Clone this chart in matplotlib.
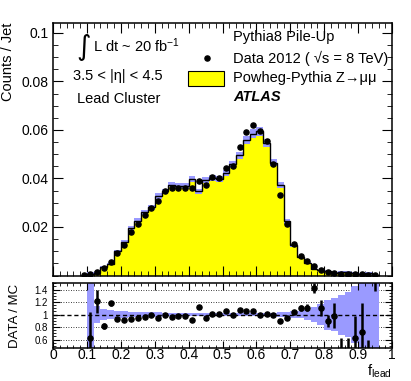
import numpy as np
import matplotlib
matplotlib.use('Agg')
import matplotlib.pyplot as plt
from matplotlib.ticker import MultipleLocator, FormatStrFormatter
from matplotlib.patches import Rectangle

plt.rcParams['font.family'] = ['Liberation Sans', 'DejaVu Sans']
plt.rcParams['mathtext.fontset'] = 'custom'
plt.rcParams['mathtext.rm'] = 'Liberation Sans'
plt.rcParams['mathtext.it'] = 'Liberation Sans:italic'

# bin edges in f_lead (0.08 .. 0.96, width 0.02)
edges = np.round(np.arange(0.08, 0.961, 0.02), 2)
centers = 0.5 * (edges[:-1] + edges[1:])

# data 2012, counts / jet
data = [0.0003, 0.0005, 0.0015, 0.0030, 0.0057, 0.0094, 0.0127, 0.0180, 0.0212, 0.0250,
        0.0278, 0.0307, 0.0348, 0.0360, 0.0359, 0.0362, 0.0362, 0.0390, 0.0373, 0.0407,
        0.0402, 0.0443, 0.0453, 0.0530, 0.0590, 0.0620, 0.0595, 0.0553, 0.0460, 0.0332,
        0.0212, 0.0129, 0.0082, 0.0059, 0.0038, 0.0023, 0.0015, 0.0011, 0.0007, 0.0007,
        0.0006, 0.0005, 0.0004, 0.0004]

# Powheg-Pythia Z->mumu MC
mc = [0.0, 0.0008, 0.0012, 0.0037, 0.0048, 0.0101, 0.0140, 0.0194, 0.0226, 0.0260,
      0.0281, 0.0327, 0.0348, 0.0375, 0.0370, 0.0369, 0.0398, 0.0348, 0.0393, 0.0403,
      0.0398, 0.0422, 0.0458, 0.0495, 0.0557, 0.0585, 0.0595, 0.0548, 0.0465, 0.0373,
      0.0223, 0.0124, 0.0075, 0.0053, 0.0027, 0.0021, 0.0017, 0.0011, 0.0015, 0.0015,
      0.0010, 0.0007, 0.0010, 0.0002]

# relative MC stat uncertainty
mc_rel = [0.0, 0.6, 0.14, 0.09, 0.07, 0.055, 0.05, 0.045, 0.04, 0.04, 0.035, 0.035,
          0.03, 0.03, 0.03, 0.03, 0.03, 0.03, 0.03, 0.03, 0.03, 0.03, 0.03, 0.03, 0.03,
          0.03, 0.03, 0.03, 0.03,
          0.035, 0.04, 0.05, 0.06, 0.08, 0.12, 0.17, 0.24, 0.26, 0.32, 0.36, 0.45, 0.55,
          0.6, 0.6]

# data / MC ratio
ratio = [np.nan, 0.62, 1.21, 0.82, 1.18, 0.93, 0.91, 0.93, 0.94, 0.96, 0.99, 0.94,
         1.00, 0.96, 0.97, 0.98, 0.91, 1.12, 0.95, 1.01, 1.01, 1.05, 0.99, 1.07, 1.06,
         1.06, 1.00, 1.01, 0.99, 0.89, 0.95, 1.04, 1.10, 1.11, 1.42, 1.10, 0.90, 0.98,
         0.40, 0.40, 0.62, 0.72, 0.40, 1.90]
ratio_err = [np.nan, 0.42, 0.19, 0.05, 0.04, 0.02, 0.02, 0.015, 0.015, 0.015, 0.015,
             0.015, 0.015, 0.015, 0.015, 0.015, 0.015, 0.015, 0.015, 0.015, 0.015, 0.015,
             0.015, 0.015, 0.015, 0.015, 0.015, 0.015, 0.015, 0.015, 0.015, 0.02, 0.05,
             0.06, 0.08, 0.13, 0.10, 0.20, 0.22, 0.22, 0.36, 0.46, 0.20, 0.52]

mc = np.array(mc)
mc_rel = np.array(mc_rel)

yellow = '#ffff00'
band = '#9a9aff'

fig = plt.figure(figsize=(4.11, 3.81), dpi=100)
ax1 = fig.add_axes([0.129, 0.2769, 0.825, 0.6627])
ax2 = fig.add_axes([0.129, 0.0874, 0.825, 0.169])

# upper panel
ax1.stairs(mc, edges, fill=True, color=yellow, zorder=1)
ax1.stairs(mc * (1 + mc_rel), edges, baseline=mc * (1 - mc_rel), fill=True,
           color=band, lw=0, zorder=2)
ax1.stairs(mc, edges, color='black', lw=1.0, zorder=3)
ax1.plot(centers, data, 'o', color='black', ms=3.7, zorder=4)

ax1.set_xlim(0, 1)
ax1.set_ylim(0, 0.1041)
ax1.xaxis.set_major_locator(MultipleLocator(0.1))
ax1.xaxis.set_minor_locator(MultipleLocator(0.02))
ax1.yaxis.set_major_locator(MultipleLocator(0.02))
ax1.yaxis.set_minor_locator(MultipleLocator(0.005))
ax1.yaxis.set_major_formatter(FormatStrFormatter('%g'))
ax1.tick_params(axis='x', labelbottom=False)
ax1.tick_params(which='both', direction='in', top=True, right=True, labelsize=10)
ax1.tick_params(which='major', length=7)
ax1.tick_params(which='minor', length=3.5)
ax1.set_yticks([0.02, 0.04, 0.06, 0.08, 0.1])
ax1.set_ylabel('Counts / Jet', fontsize=10.5, loc='top')

# text and legend
tr = ax1.transAxes
ax1.text(0.068, 0.905, '\u222b', transform=tr, fontsize=20, va='center', ha='left',
         family=['DejaVu Sans'])
ax1.text(0.118, 0.909, 'L dt ~ 20 fb$^{\\mathregular{-1}}$', transform=tr,
         fontsize=10.5, va='center', ha='left')
ax1.text(0.059, 0.790, '3.5 < |\u03b7| < 4.5', transform=tr, fontsize=10.5,
         va='center', ha='left')
ax1.text(0.071, 0.699, 'Lead Cluster', transform=tr, fontsize=10.5,
         va='center', ha='left')
ax1.text(0.531, 0.944, 'Pythia8 Pile-Up', transform=tr, fontsize=10.5,
         va='center', ha='left')
ax1.plot([0.453], [0.861], 'o', color='black', ms=3.7, transform=tr)
ax1.text(0.531, 0.861, 'Data 2012 ( \u221as = 8 TeV)', transform=tr, fontsize=10.5,
         va='center', ha='left')
ax1.add_patch(Rectangle((0.398, 0.750), 0.106, 0.060, transform=tr,
                        facecolor=yellow, edgecolor='black', lw=0.8))
ax1.text(0.531, 0.782, 'Powheg-Pythia Z\u2192\u03bc\u03bc', transform=tr,
         fontsize=10.5, va='center', ha='left')
ax1.text(0.531, 0.707, 'ATLAS', transform=tr, fontsize=10.5, va='center',
         ha='left', weight='bold', style='italic')

# lower panel
ax2.stairs(1 + mc_rel, edges, baseline=1 - mc_rel, fill=True, color=band, lw=0,
           zorder=1)
for g in [0.6, 0.8, 1.2, 1.4]:
    ax2.axhline(g, color='black', lw=0.6, ls=(0, (1, 2)), zorder=0.5)
ax2.axhline(1, color='black', lw=1.0, ls=(0, (3, 2)), zorder=2)
ax2.errorbar(centers, ratio, yerr=ratio_err, fmt='o', color='black', ms=3.7,
             elinewidth=1.8, capsize=0, zorder=3)

ax2.set_xlim(0, 1)
ax2.set_ylim(0.47, 1.5)
ax2.xaxis.set_major_locator(MultipleLocator(0.1))
ax2.xaxis.set_minor_locator(MultipleLocator(0.02))
ax2.xaxis.set_major_formatter(FormatStrFormatter('%g'))
ax2.set_yticks([0.6, 0.8, 1.0, 1.2, 1.4])
ax2.yaxis.set_minor_locator(MultipleLocator(0.05))
ax2.yaxis.set_major_formatter(FormatStrFormatter('%g'))
ax2.tick_params(which='both', direction='in', top=True, right=True)
ax2.tick_params(axis='x', labelsize=10, pad=0.5)
ax2.tick_params(axis='y', labelsize=7)
ax2.tick_params(which='major', length=5)
ax2.tick_params(which='minor', length=2.5)
ax2.set_ylabel('DATA / MC', fontsize=9.5, labelpad=4)
ax2.yaxis.set_label_coords(-0.095, 0.5)
ax2.text(1.0, -0.23, 'f$_{\\mathregular{lead}}$', transform=ax2.transAxes,
         fontsize=10.5, ha='right', va='top')

for ax in (ax1, ax2):
    for s in ax.spines.values():
        s.set_linewidth(1.1)

fig.savefig('out.png', dpi=100)
